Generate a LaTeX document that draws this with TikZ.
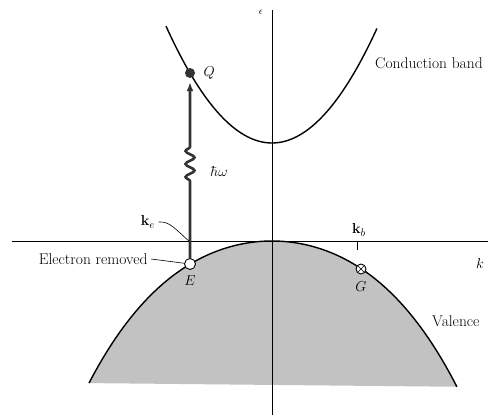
\documentclass[tikz,border=0pt]{standalone}
\usepackage{xcolor}
\usepackage{tikz}
\usetikzlibrary{positioning, arrows.meta, decorations.pathmorphing}

\begin{document}
\begin{tikzpicture}[x=1pt, y=-1pt, font=\fontsize{15.5}{18}\selectfont,
        band/.style={line width=1.4pt},
        axis/.style={line width=0.8pt},
        leader/.style={line width=0.6pt},
        filled/.style={fill=black!24},
        hole/.style={circle, draw, line width=0.9pt, fill=white, minimum size=11pt, inner sep=0pt},
        electron/.style={circle, fill=black!80, minimum size=10pt, inner sep=0pt},
        gen/.style={hole, minimum size=10pt, path picture={
            \draw[line width=0.7pt] (path picture bounding box.north west) -- (path picture bounding box.south east)
                (path picture bounding box.north east) -- (path picture bounding box.south west);}},
        photon/.style={line width=2.6pt, draw=black!80, -{Latex[length=9pt, width=7pt]}, shorten >=4pt,
            decorate, decoration={snake, amplitude=4.5pt, segment length=13pt, pre length=77pt, post length=63pt}}]
        \useasboundingbox (0,0) rectangle (488,417);

        \fill[filled] plot[domain=-1.83:1.85, samples=80, smooth] ({272+100*\x}, {241+32.45*(\x)^2+2.98*(\x)^4}) -- cycle;

        \coordinate (kl) at (12,241);
        \coordinate (kr) at (488,241);
        \coordinate (etop) at (272,10);
        \coordinate (ebot) at (272,415);
        \draw[axis] (kl) -- (kr);
        \draw[axis] (etop) -- (ebot);

        \draw[band] plot[domain=-1.06:1.05, samples=60, smooth] ({272+100*\x}, {143-104*(\x)^2});
        \draw[band] plot[domain=-1.83:1.85, samples=80, smooth] ({272+100*\x}, {241+32.45*(\x)^2+2.98*(\x)^4});

        \node[electron] (Q) at (190,73) {};
        \node[hole] (E) at (190,264) {};
        \node[gen] (G) at (361,269) {};
        \node (Qlab) [right=5pt of Q] {$Q$};
        \node (Elab) [below=2pt of E] {$E$};
        \node (Glab) [below=4pt of G] {$G$};

        \draw[photon] (E) -- (Q);
        \node (hw) [inner sep=1pt] at (219,172) {$\hbar\omega$};

        \coordinate (kex) at (189,241);
        \node (ke) at (148,222) {$\mathbf{k}_e$};
        \draw[leader] (ke.east) .. controls (170,221) and (176,230) .. (kex);

        \coordinate (kb0) at (357,241);
        \node (kb) at (359,230) {$\mathbf{k}_b$};
        \draw[axis] (kb0) -- ++(0,9);

        \node (er) [anchor=east] at (151,259) {Electron removed};
        \draw[leader] (er.east) -- (E);

        \node (klab) at (480,264) {$k$};
        \node (elab) at (261,12) {\fontsize{10}{11}\selectfont$\epsilon$};
        \node (cb) [anchor=base west, inner sep=0pt] at (375,69) {Conduction band};
        \node (vb) [anchor=west, inner sep=0pt] at (432,321) {Valence};
\end{tikzpicture}
\end{document}
